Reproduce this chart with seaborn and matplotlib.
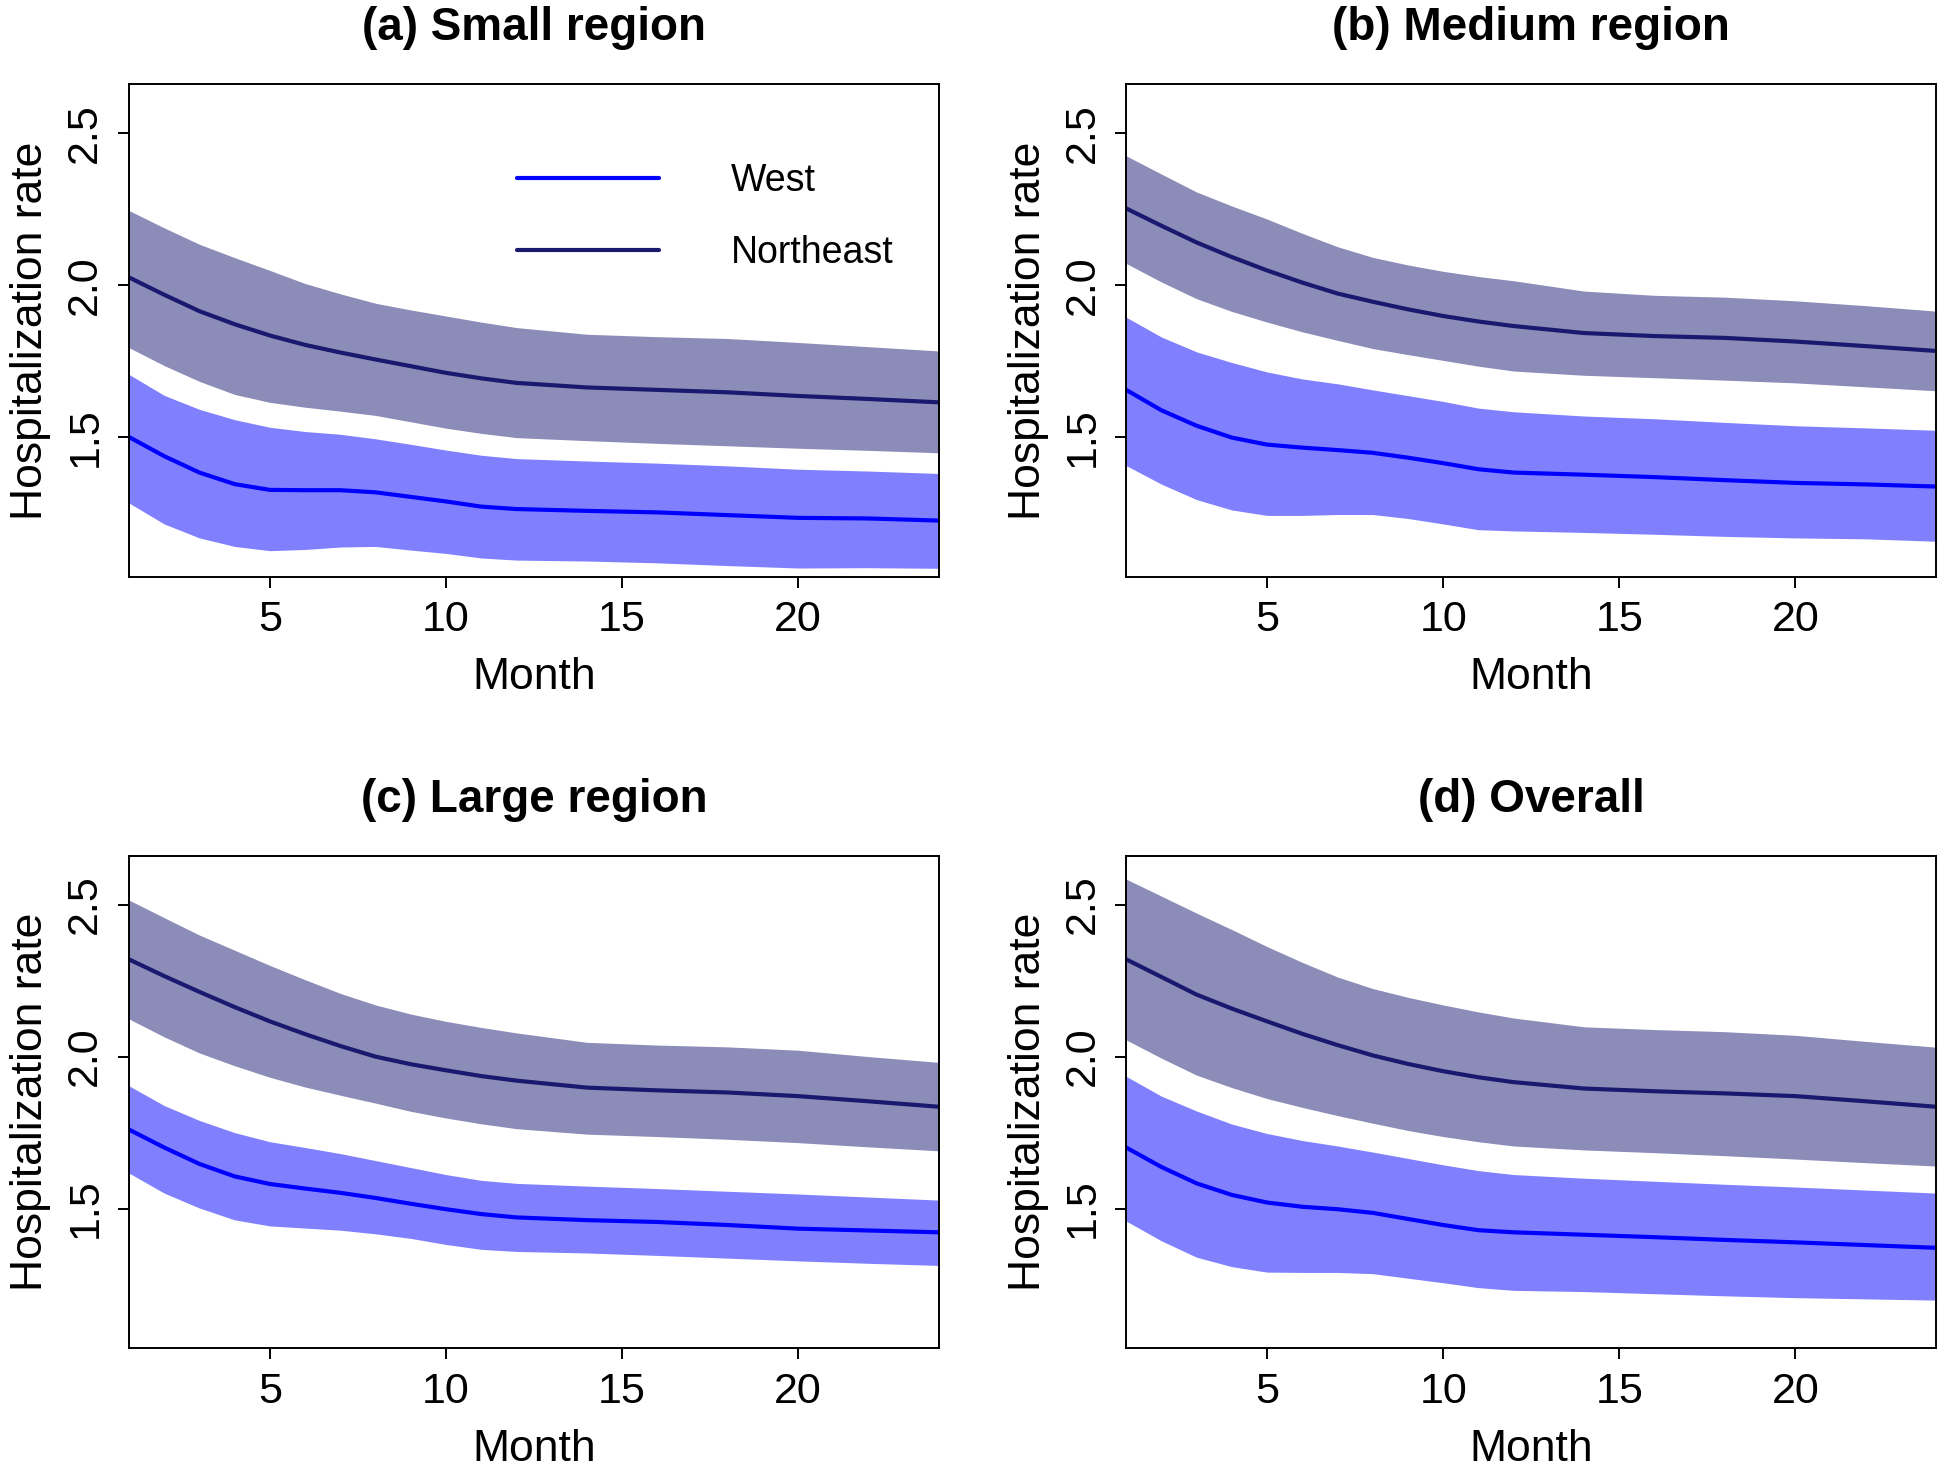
import pandas as pd
import matplotlib
matplotlib.use("Agg")
import matplotlib.pyplot as plt
import seaborn as sns
from matplotlib.lines import Line2D

months = [1, 2, 3, 4, 5, 6, 7, 8, 9, 10, 11, 12, 14, 16, 18, 20, 22, 24]

# (a) Small region
a_ne_mean = [2.025, 1.968, 1.914, 1.871, 1.834, 1.803, 1.778, 1.755, 1.733, 1.711, 1.693, 1.678, 1.663, 1.655, 1.647, 1.635, 1.625, 1.614]
a_ne_up = [2.245, 2.188, 2.134, 2.090, 2.048, 2.005, 1.971, 1.940, 1.918, 1.898, 1.878, 1.860, 1.838, 1.830, 1.824, 1.811, 1.797, 1.783]
a_ne_lo = [1.794, 1.735, 1.683, 1.640, 1.614, 1.598, 1.585, 1.571, 1.550, 1.529, 1.512, 1.498, 1.488, 1.479, 1.471, 1.463, 1.456, 1.448]
a_w_mean = [1.500, 1.437, 1.383, 1.345, 1.326, 1.325, 1.325, 1.318, 1.303, 1.288, 1.271, 1.263, 1.257, 1.252, 1.243, 1.234, 1.232, 1.225]
a_w_up = [1.706, 1.637, 1.591, 1.557, 1.532, 1.518, 1.509, 1.494, 1.476, 1.457, 1.440, 1.429, 1.421, 1.414, 1.405, 1.394, 1.388, 1.380]
a_w_lo = [1.283, 1.214, 1.168, 1.140, 1.126, 1.130, 1.138, 1.140, 1.128, 1.117, 1.102, 1.095, 1.092, 1.086, 1.077, 1.069, 1.070, 1.068]

# (b) Medium region
b_ne_mean = [2.252, 2.195, 2.140, 2.092, 2.048, 2.008, 1.972, 1.945, 1.920, 1.898, 1.880, 1.865, 1.842, 1.832, 1.826, 1.814, 1.799, 1.783]
b_ne_up = [2.425, 2.365, 2.306, 2.260, 2.217, 2.170, 2.126, 2.091, 2.066, 2.045, 2.028, 2.014, 1.980, 1.966, 1.960, 1.948, 1.932, 1.914]
b_ne_lo = [2.071, 2.010, 1.955, 1.913, 1.878, 1.846, 1.818, 1.791, 1.771, 1.752, 1.733, 1.717, 1.703, 1.695, 1.687, 1.678, 1.665, 1.652]
b_w_mean = [1.655, 1.588, 1.537, 1.498, 1.475, 1.465, 1.457, 1.448, 1.432, 1.414, 1.394, 1.383, 1.376, 1.368, 1.358, 1.349, 1.344, 1.337]
b_w_up = [1.894, 1.829, 1.780, 1.745, 1.714, 1.691, 1.675, 1.655, 1.636, 1.617, 1.595, 1.583, 1.569, 1.560, 1.548, 1.537, 1.530, 1.522]
b_w_lo = [1.406, 1.345, 1.294, 1.260, 1.242, 1.242, 1.245, 1.245, 1.232, 1.214, 1.195, 1.191, 1.186, 1.180, 1.173, 1.168, 1.165, 1.157]

# (c) Large region
c_ne_mean = [2.320, 2.265, 2.213, 2.163, 2.116, 2.074, 2.035, 2.000, 1.975, 1.955, 1.936, 1.921, 1.898, 1.889, 1.882, 1.870, 1.853, 1.835]
c_ne_up = [2.515, 2.457, 2.400, 2.350, 2.300, 2.253, 2.208, 2.170, 2.140, 2.116, 2.096, 2.078, 2.047, 2.038, 2.032, 2.021, 2.000, 1.981]
c_ne_lo = [2.124, 2.065, 2.012, 1.970, 1.932, 1.900, 1.873, 1.847, 1.820, 1.798, 1.779, 1.763, 1.745, 1.737, 1.728, 1.717, 1.703, 1.690]
c_w_mean = [1.760, 1.701, 1.647, 1.606, 1.581, 1.566, 1.552, 1.535, 1.516, 1.498, 1.482, 1.471, 1.462, 1.456, 1.446, 1.434, 1.428, 1.422]
c_w_up = [1.904, 1.839, 1.790, 1.750, 1.720, 1.701, 1.681, 1.658, 1.635, 1.612, 1.593, 1.583, 1.574, 1.566, 1.557, 1.548, 1.538, 1.528]
c_w_lo = [1.617, 1.551, 1.502, 1.463, 1.443, 1.436, 1.429, 1.417, 1.402, 1.382, 1.366, 1.359, 1.354, 1.346, 1.337, 1.328, 1.320, 1.313]

# (d) Overall
d_ne_mean = [2.320, 2.262, 2.204, 2.158, 2.116, 2.075, 2.038, 2.004, 1.976, 1.952, 1.932, 1.916, 1.895, 1.886, 1.879, 1.870, 1.853, 1.835]
d_ne_up = [2.584, 2.528, 2.472, 2.418, 2.362, 2.310, 2.262, 2.224, 2.195, 2.170, 2.147, 2.127, 2.098, 2.089, 2.082, 2.070, 2.050, 2.031]
d_ne_lo = [2.055, 1.995, 1.939, 1.898, 1.862, 1.833, 1.806, 1.781, 1.757, 1.737, 1.720, 1.706, 1.693, 1.684, 1.674, 1.663, 1.651, 1.640]
d_w_mean = [1.701, 1.637, 1.583, 1.545, 1.520, 1.506, 1.498, 1.486, 1.466, 1.446, 1.429, 1.422, 1.414, 1.406, 1.397, 1.389, 1.380, 1.371]
d_w_up = [1.935, 1.870, 1.821, 1.778, 1.747, 1.724, 1.706, 1.686, 1.665, 1.644, 1.625, 1.612, 1.600, 1.590, 1.580, 1.571, 1.561, 1.551]
d_w_lo = [1.459, 1.394, 1.340, 1.309, 1.291, 1.290, 1.290, 1.286, 1.271, 1.256, 1.240, 1.231, 1.227, 1.220, 1.213, 1.207, 1.203, 1.199]

titles = ["(a) Small region", "(b) Medium region", "(c) Large region", "(d) Overall"]
panels = [
    (a_w_mean, a_w_lo, a_w_up, a_ne_mean, a_ne_lo, a_ne_up),
    (b_w_mean, b_w_lo, b_w_up, b_ne_mean, b_ne_lo, b_ne_up),
    (c_w_mean, c_w_lo, c_w_up, c_ne_mean, c_ne_lo, c_ne_up),
    (d_w_mean, d_w_lo, d_w_up, d_ne_mean, d_ne_lo, d_ne_up),
]

sns.set_style("ticks")
plt.rcParams["font.family"] = ["Liberation Sans", "DejaVu Sans"]
plt.rcParams["text.color"] = "black"
plt.rcParams["axes.labelcolor"] = "black"
plt.rcParams["xtick.color"] = "black"
plt.rcParams["ytick.color"] = "black"

line_cols = {"West": "#0000FF", "Northeast": "#191970"}
band_cols = {"West": "#8080FF", "Northeast": "#8C8CB8"}

fig = plt.figure(figsize=(19.45, 14.7), dpi=100)
lefts = [0.0663, 0.579]
bottoms = [0.6076, 0.0827]
w, h = 0.4165, 0.335

for i, (title, vals) in enumerate(zip(titles, panels)):
    ax = fig.add_axes([lefts[i % 2], bottoms[i // 2], w, h])
    w_mean, w_lo, w_up, ne_mean, ne_lo, ne_up = vals
    ax.fill_between(months, ne_lo, ne_up, color=band_cols["Northeast"], lw=0)
    ax.fill_between(months, w_lo, w_up, color=band_cols["West"], lw=0)
    df = pd.DataFrame({
        "Month": months * 2,
        "rate": w_mean + ne_mean,
        "Region": ["West"] * len(months) + ["Northeast"] * len(months),
    })
    sns.lineplot(data=df, x="Month", y="rate", hue="Region", palette=line_cols,
                 linewidth=3, ax=ax, legend=False)
    ax.set_xlim(1, 24)
    ax.set_ylim(1.04, 2.66)
    ax.set_xticks([5, 10, 15, 20])
    ax.set_yticks([1.5, 2.0, 2.5])
    ax.set_yticklabels(["1.5", "2.0", "2.5"], rotation=90, va="center")
    ax.tick_params(labelsize=31, length=8, width=1.4, pad=9)
    for sp in ax.spines.values():
        sp.set_visible(True)
        sp.set_linewidth(1.4)
        sp.set_color("black")
    ax.set_xlabel("Month", fontsize=32, labelpad=12)
    ax.set_ylabel("Hospitalization rate", fontsize=32, labelpad=10)
    ax.set_title(title, fontsize=33, fontweight="bold", pad=32)
    if i == 0:
        handles = [Line2D([], [], color=line_cols["West"], lw=3),
                   Line2D([], [], color=line_cols["Northeast"], lw=3)]
        ax.legend(handles, ["West", "Northeast"], loc="upper left",
                  bbox_to_anchor=(0.437, 0.908), frameon=False, fontsize=27,
                  handlelength=3.8, handletextpad=1.9, labelspacing=0.95)

fig.savefig("out.png", dpi=100)
